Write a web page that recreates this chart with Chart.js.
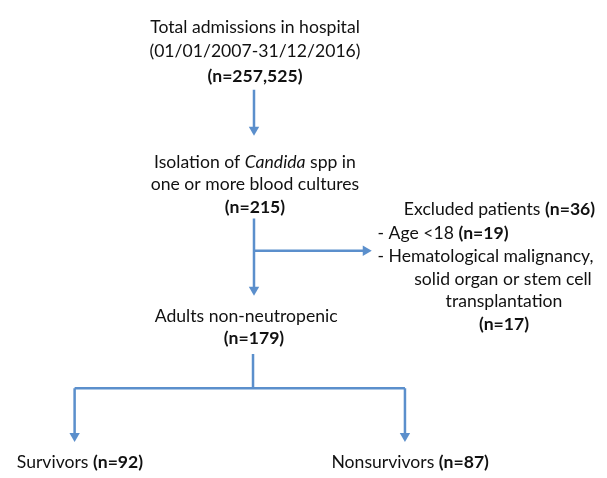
<!DOCTYPE html>
<html><head><meta charset="utf-8">
<script src="https://cdn.jsdelivr.net/npm/chart.js@4"></script>
<style>html,body{margin:0;padding:0;background:#fff}#wrap{width:607px;height:478px;position:relative}</style>
</head><body><div id="wrap"><canvas id="c"></canvas></div>
<script>
// ---- data ----
const stageLabels = ["Total admissions in hospital", "Isolation of Candida spp in one or more blood cultures", "Adults non-neutropenic", "Survivors", "Nonsurvivors"];
const stageCounts = [257525, 215, 179, 92, 87];
const studyPeriod = ["01/01/2007", "31/12/2016"];
const excludedLabels = ["Excluded patients", "Age <18", "Hematological malignancy, solid organ or stem cell transplantation"];
const excludedCounts = [36, 19, 17];

// ---- layout (positions in canvas units) ----
const W = 607, H = 478;
const fmt = n => "(n=" + n.toLocaleString("en-US") + ")";
const FONT = "Lato, 'Open Sans', sans-serif";
const FS = 17.6;
const color = "#5b8fcc";

const connectors = [
  { pts: [[253, 86], [253, 127]], dir: "down" },
  { pts: [[253, 218], [253, 291]], dir: "down" },
  { pts: [[253, 251], [367, 251]], dir: "right" },
  { pts: [[252, 357], [252, 392]], dir: null },
  { pts: [[70, 392], [407, 392]], dir: null },
  { pts: [[70, 392], [70, 441]], dir: "down" },
  { pts: [[407, 392], [407, 441]], dir: "down" }
];

// text blocks: each line is array of runs [text, style]
const textLines = [
  { x: 254, y: 22, align: "center", runs: [[stageLabels[0], ""]] },
  { x: 254, y: 47, align: "center", runs: [["(" + studyPeriod[0] + "-" + studyPeriod[1] + ")", ""]] },
  { x: 254, y: 72, align: "center", runs: [[fmt(stageCounts[0]), "bold"]] },
  { x: 254, y: 160, align: "center", runs: [["Isolation of ", ""], ["Candida", "italic"], [" spp in", ""]] },
  { x: 254, y: 183, align: "center", runs: [["one or more blood cultures", ""]] },
  { x: 254, y: 206, align: "center", runs: [[fmt(stageCounts[1]), "bold"]] },
  { x: 601, y: 209, align: "right", runs: [[excludedLabels[0] + " ", ""], [fmt(excludedCounts[0]), "bold"]] },
  { x: 379, y: 233, align: "left", runs: [["- " + excludedLabels[1] + " ", ""], [fmt(excludedCounts[1]), "bold"]] },
  { x: 379, y: 257, align: "left", runs: [["- Hematological malignancy,", ""]] },
  { x: 507, y: 280, align: "center", runs: [["solid organ or stem cell", ""]] },
  { x: 508, y: 303, align: "center", runs: [["transplantation", ""]] },
  { x: 508, y: 327, align: "center", runs: [[fmt(excludedCounts[2]), "bold"]] },
  { x: 245, y: 318, align: "center", runs: [[stageLabels[2], ""]] },
  { x: 253, y: 341, align: "center", runs: [[fmt(stageCounts[2]), "bold"]] },
  { x: 11, y: 468, align: "left", runs: [[stageLabels[3] + " ", ""], [fmt(stageCounts[3]), "bold"]] },
  { x: 332, y: 468, align: "left", runs: [[stageLabels[4] + " ", ""], [fmt(stageCounts[4]), "bold"]] }
];

const datasets = connectors.map(c => ({
  data: c.pts.map(p => ({ x: p[0], y: p[1] })),
  showLine: true,
  borderColor: color,
  backgroundColor: color,
  borderWidth: 2.5,
  pointStyle: "triangle",
  pointRadius: ctx => (c.dir && ctx.dataIndex === c.pts.length - 1) ? 6 : 0,
  pointRotation: c.dir === "right" ? 90 : 180,
  pointBorderWidth: 0,
  pointHoverRadius: 0
}));

const textPlugin = {
  id: "flowText",
  afterDatasetsDraw(chart) {
    const ctx = chart.ctx, xs = chart.scales.x, ys = chart.scales.y;
    ctx.save();
    ctx.fillStyle = "#111";
    ctx.textBaseline = "middle";
    ctx.textAlign = "left";
    textLines.forEach(l => {
      const fontOf = s => (s === "bold" ? "bold " : s === "italic" ? "italic " : "") + FS + "px " + FONT;
      let total = 0;
      l.runs.forEach(r => { ctx.font = fontOf(r[1]); total += ctx.measureText(r[0]).width; });
      let x = xs.getPixelForValue(l.x);
      const y = ys.getPixelForValue(l.y);
      if (l.align === "center") x -= total / 2;
      else if (l.align === "right") x -= total;
      l.runs.forEach(r => { ctx.font = fontOf(r[1]); ctx.fillText(r[0], x, y); x += ctx.measureText(r[0]).width; });
    });
    ctx.restore();
  }
};

new Chart(document.getElementById("c"), {
  type: "scatter",
  data: { datasets },
  options: {
    responsive: true,
    maintainAspectRatio: false,
    animation: false,
    layout: { padding: 0 },
    plugins: { legend: { display: false }, tooltip: { enabled: false } },
    scales: {
      x: { type: "linear", min: 0, max: W, display: false },
      y: { type: "linear", min: 0, max: H, reverse: true, display: false }
    }
  },
  plugins: [textPlugin]
});
</script></body></html>
